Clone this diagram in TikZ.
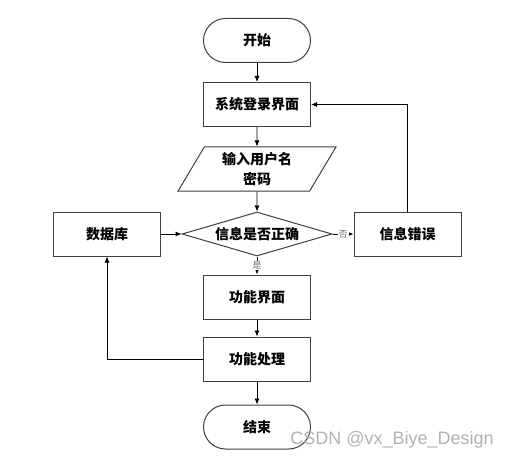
\documentclass[tikz,border=0pt]{standalone}
\usepackage{fontspec}
\newfontfamily\cjk{Noto Sans CJK SC}
\setsansfont{Liberation Sans}
\usetikzlibrary{shapes, arrows.meta, positioning, calc}

\tikzset{
  box/.style={draw=black!75, line width=1pt, minimum width=107pt, minimum height=44pt,
    font=\cjk\bfseries\fontsize{14}{20}\selectfont, align=center},
  term/.style={box, rounded corners=22pt},
  io/.style={box, trapezium, trapezium left angle=64.5, trapezium right angle=115.5,
    trapezium stretches=true, minimum width=158pt},
  decide/.style={box, diamond, aspect=3.4, inner sep=0pt, minimum width=150pt},
  flow/.style={-{Latex[length=6pt,width=5pt]}, line width=0.8pt},
  tag/.style={font=\cjk\fontsize{9}{10}\selectfont, text=black!55, fill=white, inner sep=1pt}
}

\begin{document}
\begin{tikzpicture}[x=1pt, y=-1pt]
  \fill[white] (0,0) rectangle (510,462);
  \useasboundingbox (0,0) rectangle (510,462);
  % main column
  \node[term] (start) at (257,40.5) {开始};
  \node[box] (login) at (257,104.5) {系统登录界面};
  \node[io] (input) at (257,169) {输入用户名\\密码};
  \node[decide] (check) at (257,234) {信息是否正确};
  \node[box] (menu) at (257,297) {功能界面};
  \node[box] (work) at (257,359) {功能处理};
  \node[term] (stop) at (257,427) {结束};
  % side boxes
  \node[box] (db) at (107,234) {数据库};
  \node[box] (err) at (407.5,234) {信息错误};
  % arrows
  \draw[flow] (start) -- (login);
  \draw[flow] (login) -- (input);
  \draw[flow] (input) -- (check);
  \draw[flow] (check) -- node[tag] {是} (menu);
  \draw[flow] (check) -- node[tag] {否} (err);
  \draw[flow] (menu) -- (work);
  \draw[flow] (work) -- (stop);
  \draw[flow] (db) -- (check);
  \draw[flow] (err.north) |- (login.east);
  \draw[flow] (work.west) -| (db.south);
  % watermark
  \node[font=\sffamily\fontsize{18}{20}\selectfont, text=black!30] at (392,440) {CSDN @vx\_Biye\_Design};
\end{tikzpicture}
\end{document}
